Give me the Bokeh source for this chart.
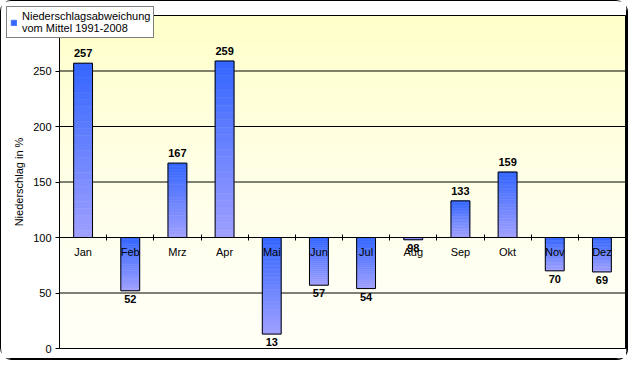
import numpy as np
from bokeh.plotting import figure
from bokeh.models import (LinearAxis, FixedTicker, Legend, LegendItem, Range1d,
                          CustomJSTickFormatter)
from bokeh.embed import file_html
from bokeh.resources import INLINE
from bokeh.core.properties import value

# ---------------- data ----------------
months = ["Jan", "Feb", "Mrz", "Apr", "Mai", "Jun", "Jul", "Aug", "Sep", "Okt", "Nov", "Dez"]
values = [257, 52, 167, 259, 13, 57, 54, 98, 133, 159, 70, 69]
baseline = 100
y_ticks = [0, 50, 100, 150, 200, 250, 300]
legend_label = "Niederschlagsabweichung\nvom Mittel 1991-2008"
y_label = "Niederschlag in %"

# ---------------- layout / styles ----------------
FONT = "Liberation Sans"
W, H = 627, 359
PL, PR, PT, PB = 58, 3, 14, 12          # plot-area margins inside the chart (px)
bar_w = 0.4
dark = np.array([51, 102, 255])
light = np.array([160, 160, 255])
bg_top = np.array([255, 255, 200])
bg_bot = np.array([255, 255, 246])

def hexc(c):
    c = np.clip(np.round(c), 0, 255).astype(int)
    return "#%02x%02x%02x" % tuple(c)

n = len(months)
y0, y1 = y_ticks[0], y_ticks[-1]
pxx = (W - PL - PR) / n
pxy = (H - PT - PB) / (y1 - y0)
x_range = Range1d(-PL / pxx, n + PR / pxx)
y_range = Range1d(y0 - PB / pxy, y1 + PT / pxy)

p = figure(width=W, height=H, x_range=x_range, y_range=y_range,
           output_backend="svg", toolbar_location=None,
           x_axis_location=None, y_axis_location=None,
           min_border_left=0, min_border_right=0, min_border_top=0, min_border_bottom=0)
p.styles = {"border": "1px solid black", "border-radius": "11px",
            "box-shadow": "1px 1px 0px #000000"}
p.border_fill_color = "white"
p.background_fill_color = "white"
p.outline_line_color = None
p.xgrid.visible = False
p.ygrid.visible = False

# background gradient (plot area)
nb = 60
edges = np.linspace(y0, y1, nb + 1)
bg_cols = []
for k in range(nb):
    t = ((edges[k] + edges[k + 1]) / 2 - y0) / (y1 - y0)
    t = t ** 1.6
    bg_cols.append(hexc(bg_bot + (bg_top - bg_bot) * t))
p.quad(left=0, right=n, bottom=edges[:-1], top=edges[1:], fill_color=bg_cols,
       line_color=bg_cols, line_width=1)

# horizontal grid lines
p.segment(x0=0, x1=n, y0=y_ticks, y1=y_ticks, line_color="black", line_width=1)

# bars with vertical gradient
ns = 24
L, R, T, B, C = [], [], [], [], []
for i, v in enumerate(values):
    hi, lo = max(v, baseline), min(v, baseline)
    for k in range(ns):
        t = (k + 0.5) / ns
        L.append(i + 0.5 - bar_w / 2)
        R.append(i + 0.5 + bar_w / 2)
        T.append(hi - (hi - lo) * k / ns)
        B.append(hi - (hi - lo) * (k + 1) / ns)
        C.append(hexc(dark + (light - dark) * t))
seg = p.quad(left=L, right=R, top=T, bottom=B, fill_color=C, line_color=C, line_width=0.6)

xc = [i + 0.5 for i in range(n)]
outline = p.quad(left=[x - bar_w / 2 for x in xc], right=[x + bar_w / 2 for x in xc],
                 top=[max(v, baseline) for v in values],
                 bottom=[min(v, baseline) for v in values],
                 fill_color=None, line_color="black", line_width=1)

# plot-area border
p.quad(left=0, right=n, bottom=y0, top=y1, fill_color=None, line_color="black", line_width=1)

# data labels
up = [(x, v) for x, v in zip(xc, values) if v >= baseline]
dn = [(x, v) for x, v in zip(xc, values) if v < baseline]
p.text(x=[a for a, _ in up], y=[b for _, b in up], text=[str(b) for _, b in up],
       text_font=value(FONT), text_font_style="bold", text_font_size="11px",
       text_align="center", text_baseline="bottom", y_offset=-6, text_color="black")
p.text(x=[a for a, _ in dn], y=[b for _, b in dn], text=[str(b) for _, b in dn],
       text_font=value(FONT), text_font_style="bold", text_font_size="11px",
       text_align="center", text_baseline="top", y_offset=4, text_color="black")

# y axis at x = 0
ya = LinearAxis(ticker=FixedTicker(ticks=y_ticks), fixed_location=0, bounds=(y0, y1),
                minor_tick_line_color=None, major_tick_in=0, major_tick_out=4,
                axis_line_color="black", major_tick_line_color="black",
                major_label_text_font=FONT, major_label_text_font_size="11px",
                major_label_text_color="black", major_label_standoff=4,
                axis_label=y_label, axis_label_text_font=FONT,
                axis_label_text_font_size="11px", axis_label_text_font_style="normal",
                axis_label_text_color="black", axis_label_standoff=5)
p.add_layout(ya, "left")

# category axis at baseline: ticks between categories
xa_ticks = LinearAxis(ticker=FixedTicker(ticks=list(range(n + 1))), fixed_location=baseline,
                      bounds=(0, n), major_tick_in=3, major_tick_out=3,
                      axis_line_color="black", major_tick_line_color="black",
                      minor_tick_line_color=None,
                      major_label_text_font_size="0px", major_label_text_alpha=0)
p.add_layout(xa_ticks, "below")
fmt = CustomJSTickFormatter(args=dict(months=months),
                            code="return months[Math.round(tick - 0.5)] || '';")
xa_lab = LinearAxis(ticker=FixedTicker(ticks=xc), fixed_location=baseline, formatter=fmt,
                    major_tick_in=0, major_tick_out=0, axis_line_color=None,
                    major_tick_line_color=None, minor_tick_line_color=None,
                    major_label_standoff=8, major_label_text_font=FONT,
                    major_label_text_font_size="11px", major_label_text_color="black")
p.add_layout(xa_lab, "below")

# legend (glyph taken from the first, darkest bar segment)
legend = Legend(items=[LegendItem(label=legend_label, renderers=[seg], index=0)],
                location="top_left", border_line_color="black", border_line_width=1,
                background_fill_color="white", background_fill_alpha=1,
                label_text_font=FONT, label_text_font_size="11px", label_text_color="black",
                glyph_width=7, glyph_height=7, label_standoff=5, padding=3, margin=5,
                label_text_line_height=1.15)
p.add_layout(legend, "center")

open("out.html", "w").write(file_html(p, INLINE))
